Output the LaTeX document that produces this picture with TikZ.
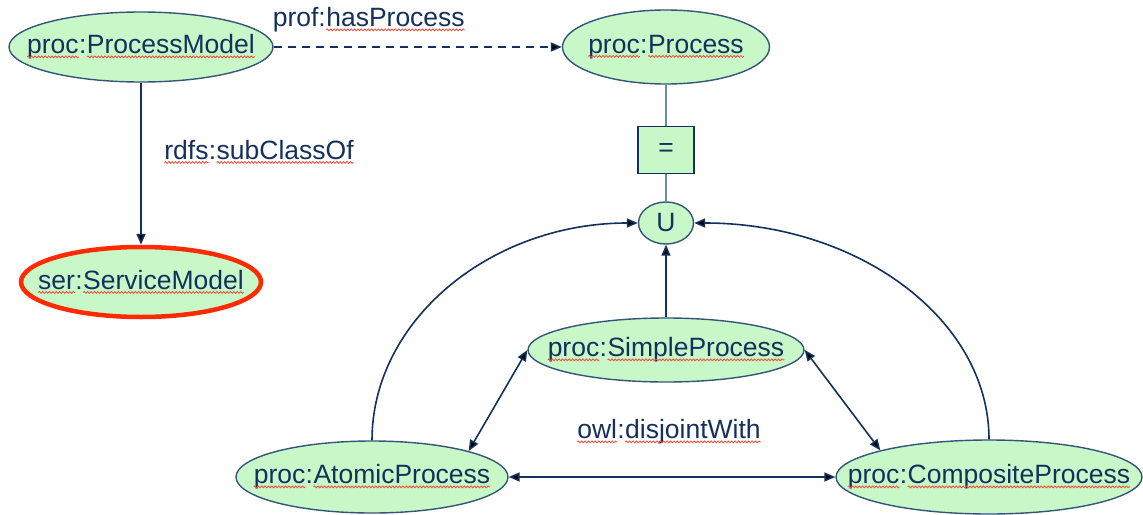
\documentclass[tikz,border=0pt]{standalone}
\usepackage{fontspec}
\setmainfont{Liberation Sans}
\usetikzlibrary{shapes.geometric,arrows.meta,decorations.pathmorphing}

\definecolor{nodefill}{HTML}{C8F8C8}
\definecolor{navy}{HTML}{13315C}
\definecolor{rim}{HTML}{34557A}
\definecolor{link}{HTML}{6B88A8}
\definecolor{alert}{HTML}{FF2A00}
\definecolor{spell}{HTML}{F0503C}

% word with a red wavy underline
\newcommand\sq[1]{\tikz[baseline=(w.base)]{%
  \node[shape=rectangle,draw=none,fill=none,inner sep=0pt,outer sep=0pt,
        minimum width=0pt,minimum height=0pt,anchor=base] (w) {#1};
  \draw[spell,line width=0.85pt,solid,decorate,
        decoration={snake,amplitude=0.9pt,segment length=3.4pt}]
    ([yshift=-3pt]w.base west) -- ([yshift=-3pt]w.base east);}}

\begin{document}
\begin{tikzpicture}[x=1pt,y=-1pt,
  font=\fontsize{26.5}{30}\selectfont, text=navy,
  cls/.style={ellipse, draw=rim, fill=nodefill, line width=1.4pt, inner sep=0pt},
  conn/.style={draw=navy, line width=1.6pt},
  tip/.style={-{Triangle[length=11pt,width=9pt]}},
  both/.style={{Triangle[length=11pt,width=9pt]}-{Triangle[length=11pt,width=9pt]}},
  lbl/.style={inner sep=0pt}]
\useasboundingbox (0,0) rectangle (1143,514);

% classes
\node[cls, minimum width=264pt, minimum height=70pt] (pm) at (141,47)
  {\makebox[0pt]{\sq{proc}:\sq{ProcessModel}}};
\node[cls, minimum width=207pt, minimum height=74pt] (pr) at (666,47)
  {\makebox[0pt]{\sq{proc}:\sq{Process}}};
\node[cls, draw=alert, line width=4.5pt, minimum width=240pt, minimum height=70pt] (sm) at (141,282)
  {\makebox[0pt]{\sq{ser}:\sq{ServiceModel}}};
\node[draw=navy, fill=nodefill, line width=1.8pt, minimum width=56pt, minimum height=47pt, inner sep=0pt] (eq) at (666,150) {=};
\node[cls, minimum width=55pt, minimum height=42pt] (u) at (666,223) {\makebox[0pt]{U}};
\node[cls, minimum width=276pt, minimum height=64pt] (sp) at (666,350)
  {\makebox[0pt]{\sq{proc}:\sq{SimpleProcess}}};
\node[cls, minimum width=272pt, minimum height=72pt] (ap) at (372,477)
  {\makebox[0pt]{\sq{proc}:\sq{AtomicProcess}}};
\node[cls, minimum width=306pt, minimum height=74pt] (cp) at (989,477)
  {\makebox[0pt]{\sq{proc}:\sq{CompositeProcess}}};

% property labels
\node[lbl] (hp) at (369,20) {prof:\sq{hasProcess}};
\node[lbl] (sc) at (259,152) {\sq{rdfs}:\sq{subClassOf}};
\node[lbl] (dj) at (669,432) {\sq{owl}:\sq{disjointWith}};

% connectors
\draw[conn, tip, dash pattern=on 8pt off 6pt] (pm.east) -- (pr.west);
\draw[conn, tip] (pm.south) -- (sm.north);
\draw[draw=link, line width=1.6pt] (pr.south) -- (eq.north);
\draw[draw=link, line width=1.6pt] (eq.south) -- (u.north);
\draw[conn, tip] (sp.north) -- (u.south);
\draw[conn, tip] (ap.north) .. controls +(0,-120) and +(-147,0) .. (u.west);
\draw[conn, tip] (cp.north) .. controls +(0,-120) and +(164,0) .. (u.east);
\draw[conn, both] (sp.west) -- (ap.north east);
\draw[conn, both] (sp.east) -- (cp.north west);
\draw[conn, both] (ap.east) -- (cp.west);
\end{tikzpicture}
\end{document}
